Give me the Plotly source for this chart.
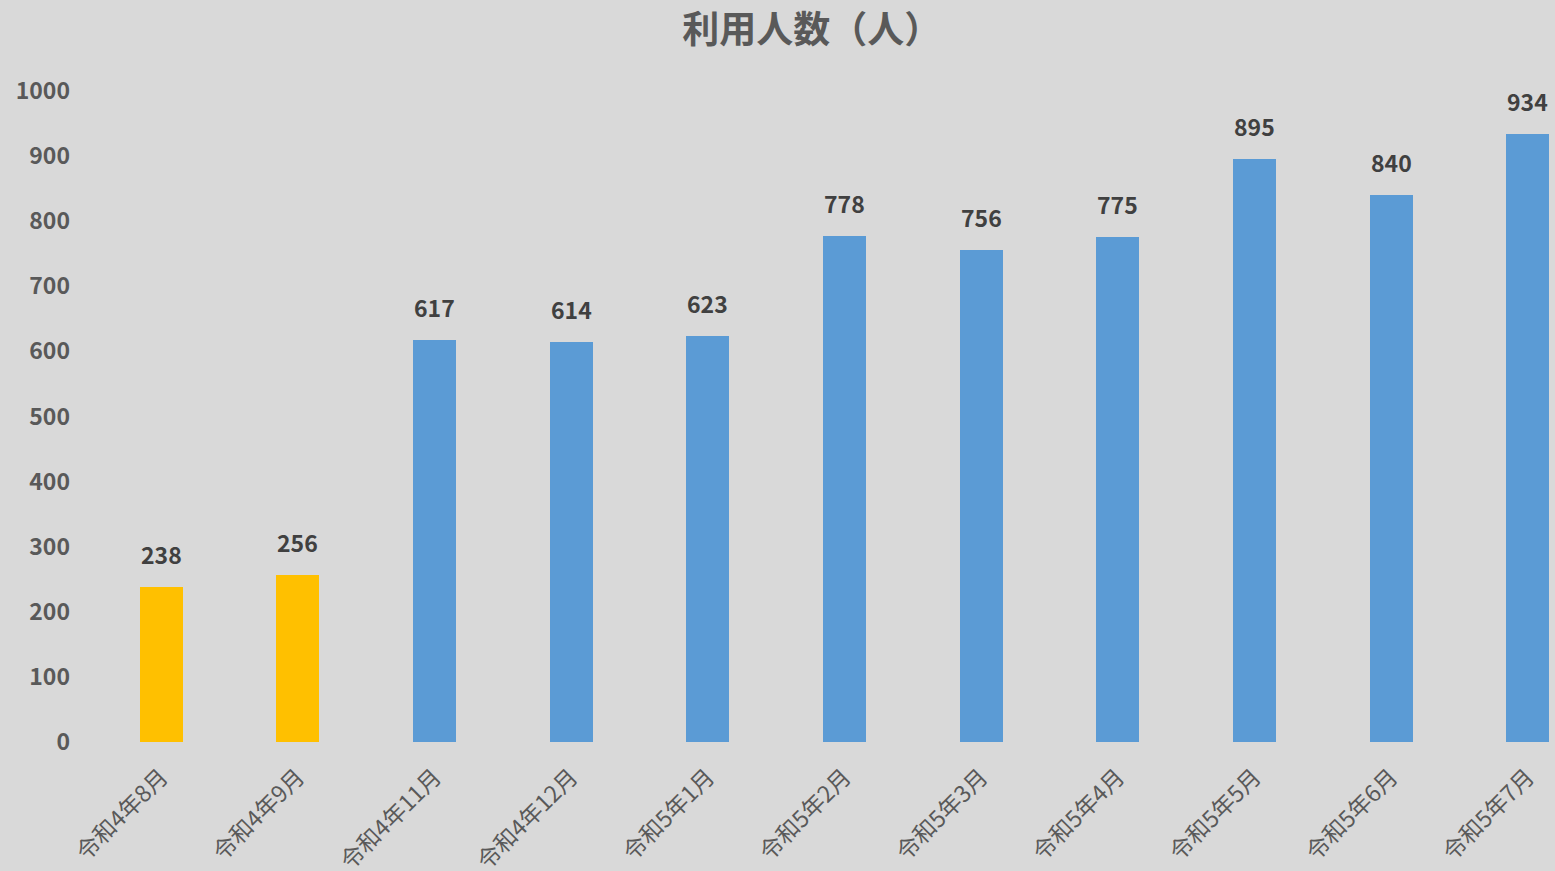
import plotly.graph_objects as go

categories = ["令和4年8月", "令和4年9月", "令和4年11月", "令和4年12月", "令和5年1月",
              "令和5年2月", "令和5年3月", "令和5年4月", "令和5年5月", "令和5年6月", "令和5年7月"]
values = [238, 256, 617, 614, 623, 778, 756, 775, 895, 840, 934]
colors = ["#FFC000", "#FFC000"] + ["#5B9BD5"] * 9

FONT = "Noto Sans CJK JP"

fig = go.Figure(go.Bar(
    x=categories, y=values,
    marker=dict(color=colors, line=dict(width=0)),
    width=0.315,
    hoverinfo="x+y",
))

for c, v in zip(categories, values):
    fig.add_annotation(
        x=c, y=v, text=str(v), showarrow=False,
        xanchor="center", yanchor="bottom", yshift=14,
        font=dict(family=FONT, size=23, color="#404040", weight="bold"),
    )

fig.update_layout(
    width=1555, height=871,
    paper_bgcolor="#D9D9D9", plot_bgcolor="#D9D9D9",
    margin=dict(l=93, r=0, t=91, b=129),
    title=dict(text="<b>利用人数（人）</b>", x=0.522, xanchor="center", y=0.966, yanchor="middle",
               font=dict(family=FONT, size=37, color="#595959")),
    showlegend=False,
    bargap=0,
)
fig.update_xaxes(
    type="category", range=[-0.5, 10.2], automargin=False,
    tickangle=-45, showgrid=False, showline=False, zeroline=False,
    tickfont=dict(family=FONT, size=23, color="#595959"),
    ticks="", ticklabelstandoff=16,
)
fig.update_yaxes(
    range=[0, 1000], dtick=100, showgrid=False, zeroline=False, showline=False, automargin=False,
    tickfont=dict(family=FONT, size=23, color="#595959", weight="bold"),
    ticks="", ticklabelstandoff=22,
)

fig.write_html("out.html", config={"displayModeBar": False},
               post_script="document.body.style.margin='0';document.body.style.background='#D9D9D9';")
